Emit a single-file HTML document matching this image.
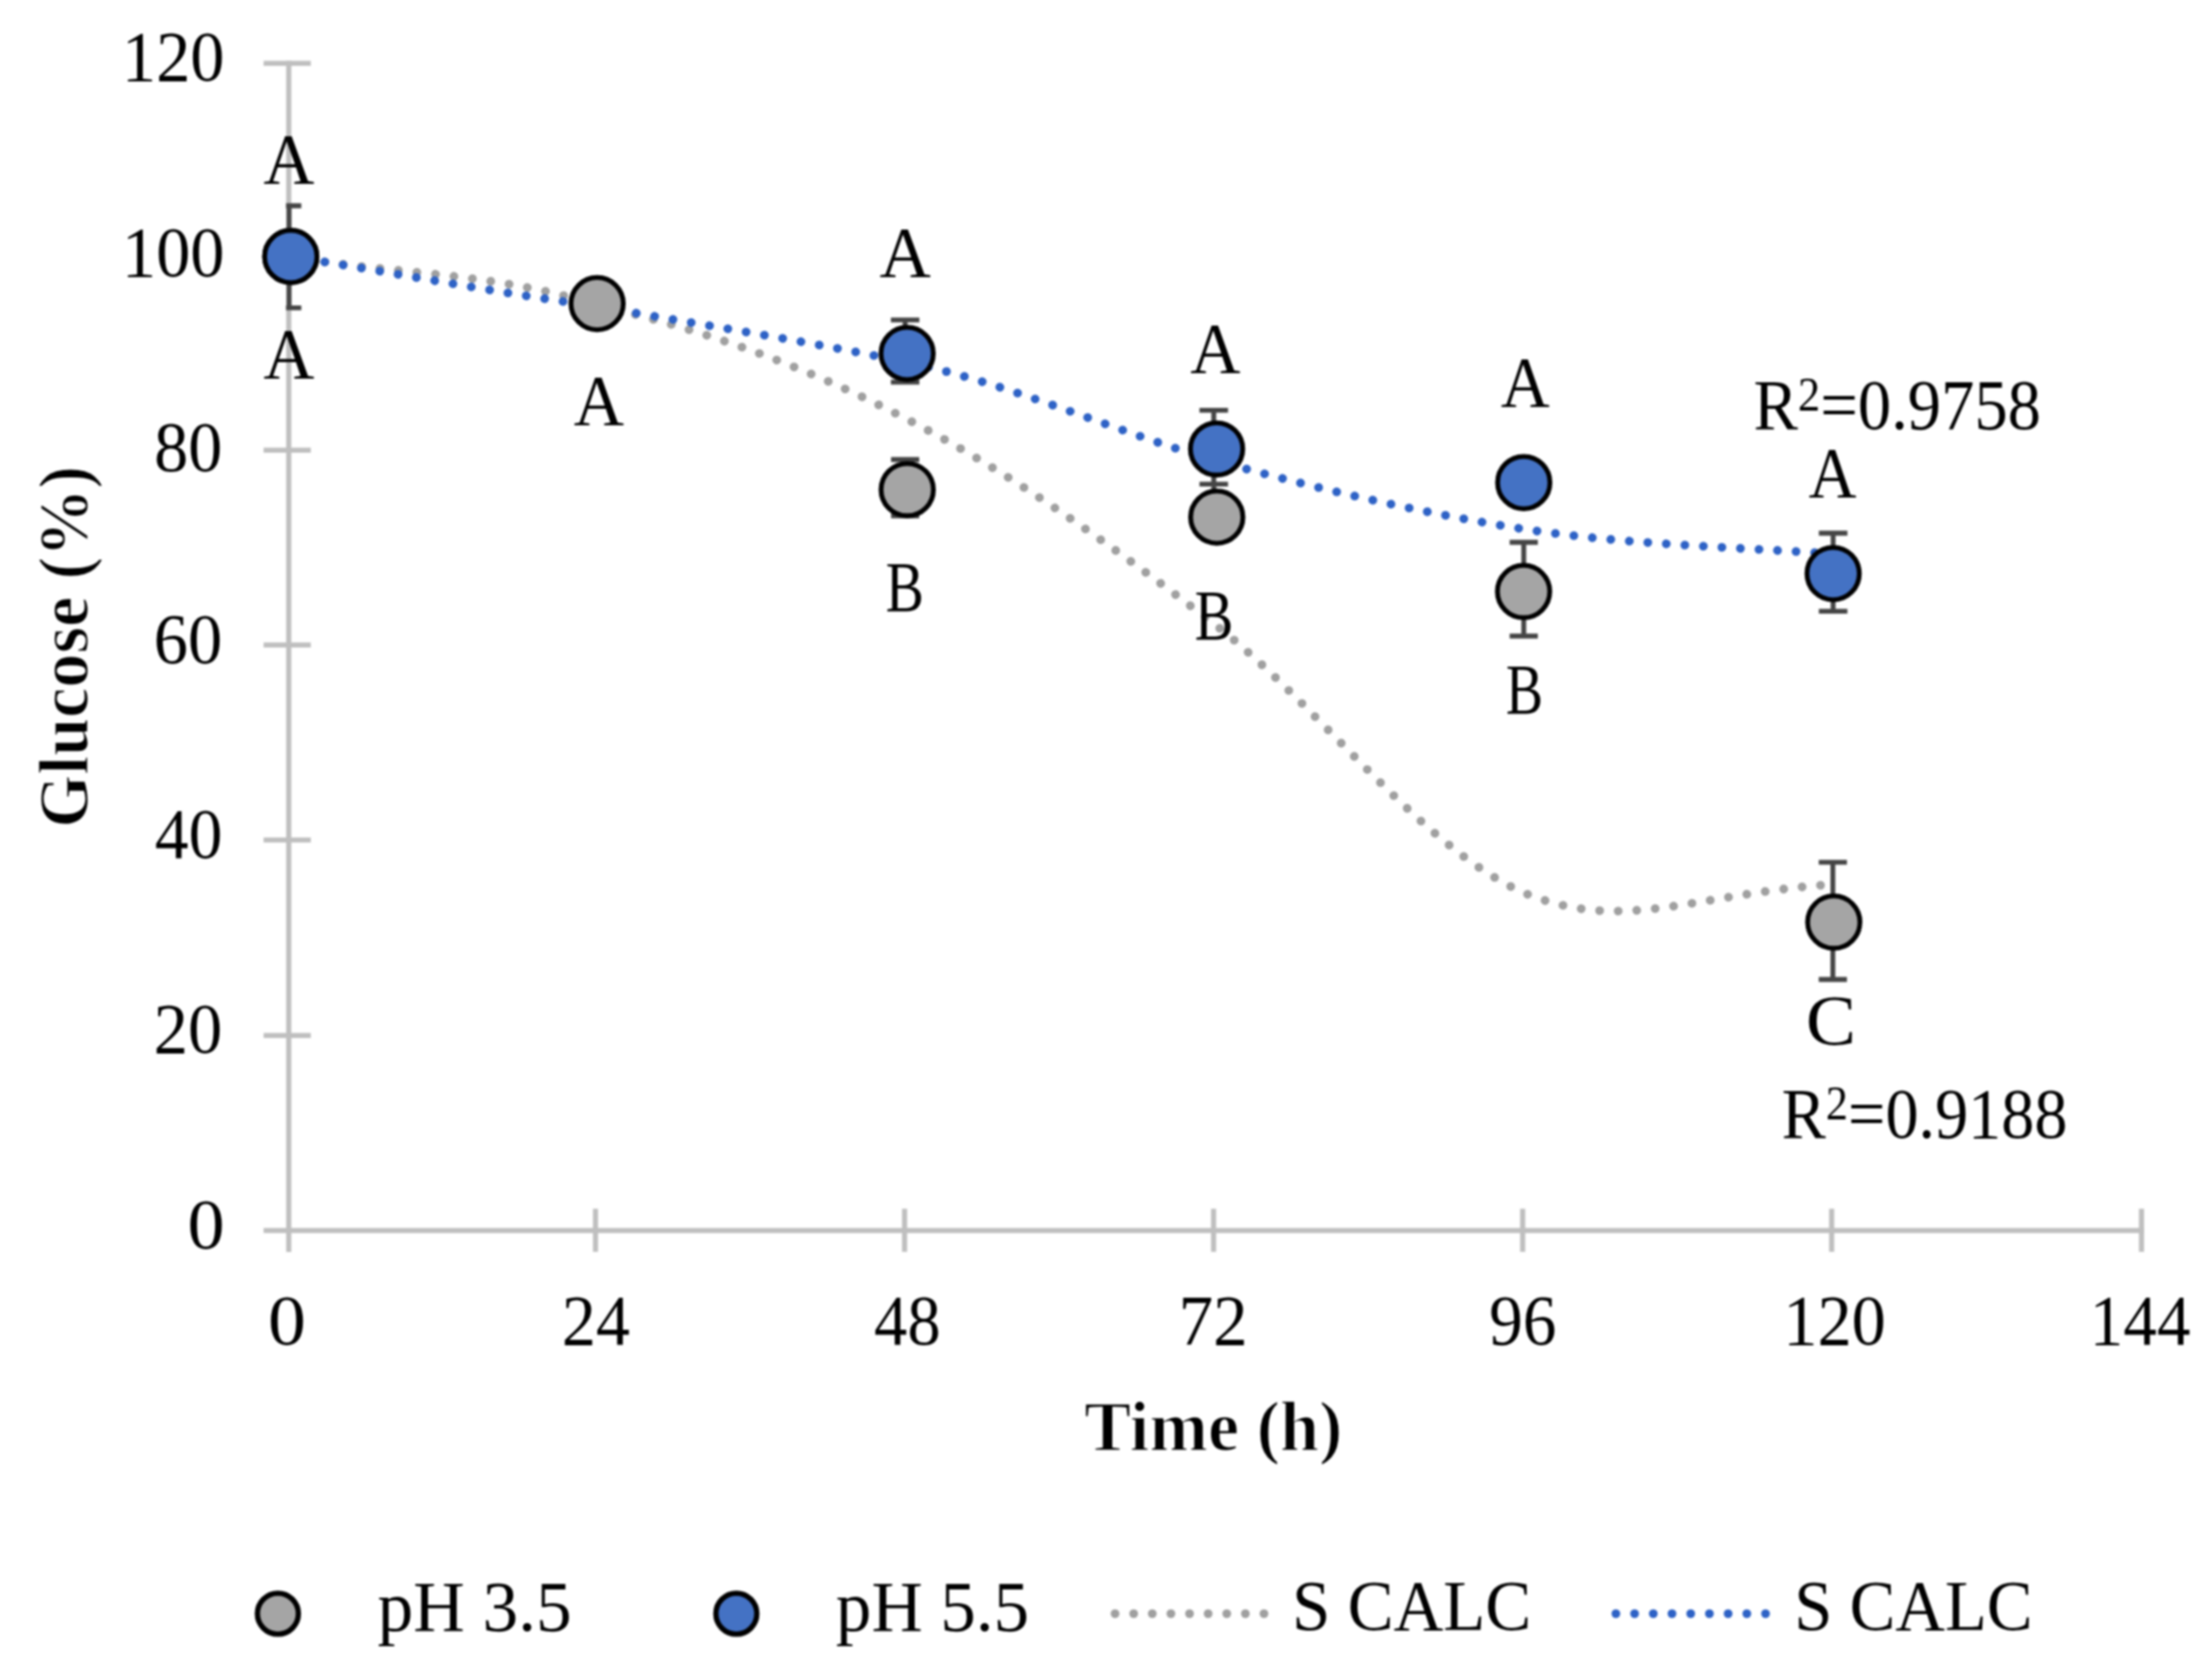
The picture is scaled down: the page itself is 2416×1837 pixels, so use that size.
<!DOCTYPE html>
<html lang="en"><head><meta charset="utf-8"><title>Glucose vs Time</title>
<style>html,body{margin:0;padding:0;background:#fff}svg{display:block;filter:blur(1.1px)}text{font-family:"Liberation Serif",serif}</style></head><body>
<svg width="2416" height="1837" viewBox="0 0 2416 1837">
<rect width="2416" height="1837" fill="#fff"/>
<g stroke="#BFBFBF" stroke-width="5.6" fill="none">
<line x1="315.66" y1="66.40" x2="315.66" y2="1369"/>
<line x1="288.2" y1="1345.5" x2="2343.90" y2="1345.5"/>
<line x1="288.2" y1="69.2" x2="339.8" y2="69.2"/>
<line x1="288.2" y1="280" x2="339.8" y2="280"/>
<line x1="288.2" y1="492.3" x2="339.8" y2="492.3"/>
<line x1="288.2" y1="705.3" x2="339.8" y2="705.3"/>
<line x1="288.2" y1="918.5" x2="339.8" y2="918.5"/>
<line x1="288.2" y1="1132.3" x2="339.8" y2="1132.3"/>
<line x1="651.0" y1="1321.7" x2="651.0" y2="1368.8"/>
<line x1="988.9" y1="1321.7" x2="988.9" y2="1368.8"/>
<line x1="1326.7" y1="1321.7" x2="1326.7" y2="1368.8"/>
<line x1="1664.6" y1="1321.7" x2="1664.6" y2="1368.8"/>
<line x1="2002.4" y1="1321.7" x2="2002.4" y2="1368.8"/>
<line x1="2341.1" y1="1321.7" x2="2341.1" y2="1368.8"/>
</g>
<text transform="translate(133.36,88.40) scale(0.9581,1)" font-size="78.03" fill="#000">120</text>
<text transform="translate(133.36,301.90) scale(0.9581,1)" font-size="78.03" fill="#000">100</text>
<text transform="translate(168.50,514.50) scale(0.9560,1)" font-size="78.03" fill="#000">80</text>
<text transform="translate(168.11,724.70) scale(0.9612,1)" font-size="78.03" fill="#000">60</text>
<text transform="translate(169.22,938.40) scale(0.9464,1)" font-size="78.03" fill="#000">40</text>
<text transform="translate(168.11,1151.40) scale(0.9612,1)" font-size="78.03" fill="#000">20</text>
<text transform="translate(204.96,1365.00) scale(1.0403,1)" font-size="78.03" fill="#000">0</text>
<text transform="translate(292.89,1470.20) scale(1.0614,1)" font-size="78.03" fill="#000">0</text>
<text transform="translate(614.24,1470.20) scale(0.9532,1)" font-size="78.03" fill="#000">24</text>
<text transform="translate(955.55,1470.20) scale(0.9314,1)" font-size="78.03" fill="#000">48</text>
<text transform="translate(1288.40,1470.20) scale(0.9670,1)" font-size="78.03" fill="#000">72</text>
<text transform="translate(1628.11,1470.20) scale(0.9419,1)" font-size="78.03" fill="#000">96</text>
<text transform="translate(1949.56,1470.20) scale(0.9572,1)" font-size="78.03" fill="#000">120</text>
<text transform="translate(2284.48,1470.20) scale(0.9409,1)" font-size="78.03" fill="#000">144</text>
<text transform="translate(1185.25,1586.20) scale(0.9942,1)" font-size="77.27" font-weight="bold" stroke="#fff" stroke-width="1.5" fill="#000">Time (h)</text>
<text transform="translate(95.70,905.35) rotate(-90) scale(0.9661,1)" font-size="77.27" font-weight="bold" stroke="#fff" stroke-width="1.5">Glucose (%)</text>
<path d="M315,280 C422,300 533,296 652.5,333.5 C765.2,359.4 877.8,399 990.5,457.85 C1103.2,515.6 1215.8,596.5 1328.5,683.2 C1440.8,770.2 1553.2,926.7 1665.5,976 C1775,1021.5 1849,977.4 2003.5,967" fill="none" stroke="#A0A0A0" stroke-width="9.6" stroke-linecap="round" stroke-dasharray="0.01 20.29"/>
<path d="M315,280 C427.5,297.5 540,319.8 652.5,334.8 C765.2,355 877.8,372.1 990.5,396 C1103.2,418.5 1215.8,471 1328.5,503.5 C1440.8,534.7 1553.2,560.8 1665.5,578.5 C1778.2,595.5 1890.8,597.9 2003.5,605.6" fill="none" stroke="#2E62C6" stroke-width="9.6" stroke-linecap="round" stroke-dasharray="0.01 20.29"/>
<defs><clipPath id="cl"><rect x="312.7" y="0" width="2200" height="1345"/></clipPath></defs>
<path d="M989.5,502.5 V564.2 M974.1,502.5 H1004.9 M974.1,564.2 H1004.9" fill="none" stroke="#454545" stroke-width="5.3"/>
<path d="M1327,531 V585" fill="none" stroke="#454545" stroke-width="5.3"/>
<path d="M1665.8,593.0 V695.5 M1650.4,593.0 H1681.2 M1650.4,695.5 H1681.2" fill="none" stroke="#454545" stroke-width="5.3"/>
<path d="M2003.7,942.8 V1071.0 M1988.3,942.8 H2019.1 M1988.3,1071.0 H2019.1" fill="none" stroke="#454545" stroke-width="5.3"/>
<circle cx="317.9" cy="280.5" r="28.6" fill="#A5A5A5" stroke="#000" stroke-width="5.3"/>
<circle cx="652.8" cy="332.0" r="28.6" fill="#A5A5A5" stroke="#000" stroke-width="5.3"/>
<circle cx="991.8" cy="535.4" r="28.6" fill="#A5A5A5" stroke="#000" stroke-width="5.3"/>
<circle cx="1330.2" cy="565.5" r="28.6" fill="#A5A5A5" stroke="#000" stroke-width="5.3"/>
<circle cx="1665.6" cy="646.8" r="28.6" fill="#A5A5A5" stroke="#000" stroke-width="5.3"/>
<circle cx="2004.7" cy="1008.3" r="28.6" fill="#A5A5A5" stroke="#000" stroke-width="5.3"/>
<g clip-path="url(#cl)">
<path d="M316.0,225.0 V336.6 M302.6,225.0 H329.4 M302.6,336.6 H329.4" fill="none" stroke="#454545" stroke-width="5.3"/>
</g>
<path d="M989.5,349.8 V417.8 M973.9,349.8 H1005.1 M973.9,417.8 H1005.1" fill="none" stroke="#454545" stroke-width="5.3"/>
<path d="M1326.9,448.6 V529.4 M1311.3,448.6 H1342.5 M1311.3,529.4 H1342.5" fill="none" stroke="#454545" stroke-width="5.3"/>
<path d="M2004.0,583.0 V668.3 M1988.4,583.0 H2019.6 M1988.4,668.3 H2019.6" fill="none" stroke="#454545" stroke-width="5.3"/>
<circle cx="317.9" cy="280.5" r="28.6" fill="#4472C4" stroke="#000" stroke-width="5.3"/>
<circle cx="991.7" cy="386.5" r="28.6" fill="#4472C4" stroke="#000" stroke-width="5.3"/>
<circle cx="1330.0" cy="490.9" r="28.6" fill="#4472C4" stroke="#000" stroke-width="5.3"/>
<circle cx="1665.8" cy="527.7" r="28.6" fill="#4472C4" stroke="#000" stroke-width="5.3"/>
<circle cx="2004.0" cy="627.2" r="28.6" fill="#4472C4" stroke="#000" stroke-width="5.3"/>
<text transform="translate(287.93,199.60) scale(0.9889,1)" font-size="78.03" fill="#000">A</text>
<text transform="translate(287.93,412.90) scale(0.9889,1)" font-size="78.03" fill="#000">A</text>
<text transform="translate(627.24,464.30) scale(0.9743,1)" font-size="78.03" fill="#000">A</text>
<text transform="translate(961.62,301.60) scale(0.9962,1)" font-size="78.03" fill="#000">A</text>
<text transform="translate(968.28,668.30) scale(0.8037,1)" font-size="78.03" fill="#000">B</text>
<text transform="translate(1301.24,407.20) scale(0.9725,1)" font-size="78.03" fill="#000">A</text>
<text transform="translate(1305.95,699.00) scale(0.8145,1)" font-size="78.03" fill="#000">B</text>
<text transform="translate(1640.76,444.40) scale(0.9471,1)" font-size="78.03" fill="#000">A</text>
<text transform="translate(1646.32,780.00) scale(0.7820,1)" font-size="78.03" fill="#000">B</text>
<text transform="translate(1977.28,543.00) scale(0.9271,1)" font-size="78.03" fill="#000">A</text>
<text transform="translate(1974.32,1141.90) scale(1.0521,1)" font-size="78.03" fill="#000">C</text>
<text transform="translate(1917.00,469.40) scale(0.9331,1)" font-size="78.03">R<tspan font-size="52.28" dy="-20.83">2</tspan><tspan dy="20.83">=0.9758</tspan></text>
<text transform="translate(1947.81,1244.40) scale(0.9274,1)" font-size="78.03">R<tspan font-size="52.28" dy="-20.83">2</tspan><tspan dy="20.83">=0.9188</tspan></text>
<circle cx="303.8" cy="1764.5" r="22.4" fill="#A5A5A5" stroke="#000" stroke-width="5.8"/>
<text transform="translate(412.83,1783.00) scale(1.0091,1)" font-size="77.27" fill="#000">pH 3.5</text>
<circle cx="805.0" cy="1764.5" r="22.4" fill="#4472C4" stroke="#000" stroke-width="5.8"/>
<text transform="translate(913.84,1783.00) scale(1.0042,1)" font-size="77.27" fill="#000">pH 5.5</text>
<path d="M1219,1764.5 H1390" fill="none" stroke="#A0A0A0" stroke-width="9.6" stroke-linecap="round" stroke-dasharray="0.01 20.34"/>
<text transform="translate(1412.41,1782.00) scale(0.9754,1)" font-size="77.27" fill="#000">S CALC</text>
<path d="M1766.5,1764.5 H1938" fill="none" stroke="#2E62C6" stroke-width="9.6" stroke-linecap="round" stroke-dasharray="0.01 20.44"/>
<text transform="translate(1961.43,1782.00) scale(0.9716,1)" font-size="77.27" fill="#000">S CALC</text>
</svg></body></html>
